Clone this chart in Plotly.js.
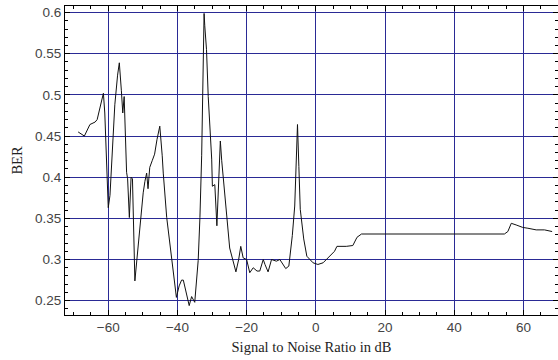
<!DOCTYPE html>
<html>
<head>
<meta charset="utf-8">
<script src="https://cdn.plot.ly/plotly-3.0.1.min.js"></script>
<style>
  html, body { margin: 0; padding: 0; background: #fff; }
  #chart { width: 558px; height: 360px; }
</style>
</head>
<body>
<div id="chart"></div>
<script>
// Signal-to-noise ratio sweep (dB)
const snrDb = [
  -68.7, -67.8, -66.9, -65.3, -63.8, -63.2, -61.4, -61.0, -60.7, -60.5,
  -60.2, -60.0, -59.5, -59.0, -58.1, -57.3, -56.8, -56.2, -55.8, -55.4,
  -54.7, -54.4, -53.9, -53.4, -53.0, -52.3, -51.8, -50.8, -49.9, -49.4,
  -48.9, -48.5, -48.0, -47.3, -46.6, -45.9, -45.1, -44.4, -44.1, -43.1,
  -41.7, -40.3, -39.5, -38.8, -38.3, -37.4, -36.6, -35.9, -35.0, -34.0,
  -33.5, -33.0, -32.8, -32.6, -32.3, -32.1, -31.6, -31.1, -30.6, -30.1,
  -29.9, -29.2, -28.6, -28.0, -27.6, -27.2, -26.3, -24.9, -23.1, -22.3,
  -21.7, -21.0, -20.0, -19.1, -18.1, -17.0, -16.2, -15.2, -14.7, -13.8,
  -12.8, -11.4, -10.4, -8.7, -7.8, -6.8, -6.1, -5.6, -5.3, -4.9,
  -4.5, -3.5, -2.6, -0.8, 0.6, 2.1, 3.0, 5.4, 6.1, 8.8,
  10.7, 11.9, 13.2, 54.5, 55.5, 56.5, 57.9, 59.8, 61.3, 63.7,
  66.1, 68.3
];

// Measured bit error rate at each SNR
const ber = [
  0.455, 0.453, 0.450, 0.464, 0.467, 0.470, 0.502, 0.478, 0.444, 0.404,
  0.380, 0.363, 0.378, 0.422, 0.488, 0.524, 0.539, 0.505, 0.478, 0.498,
  0.406, 0.398, 0.351, 0.400, 0.398, 0.274, 0.296, 0.349, 0.381, 0.395,
  0.405, 0.386, 0.412, 0.420, 0.428, 0.446, 0.462, 0.426, 0.405, 0.351,
  0.300, 0.254, 0.268, 0.275, 0.275, 0.259, 0.244, 0.255, 0.248, 0.299,
  0.351, 0.426, 0.480, 0.559, 0.599, 0.584, 0.555, 0.498, 0.462, 0.422,
  0.389, 0.391, 0.341, 0.405, 0.444, 0.420, 0.375, 0.314, 0.285, 0.300,
  0.316, 0.302, 0.300, 0.284, 0.290, 0.286, 0.286, 0.300, 0.294, 0.285,
  0.300, 0.298, 0.300, 0.289, 0.292, 0.329, 0.365, 0.446, 0.464, 0.413,
  0.361, 0.325, 0.304, 0.296, 0.294, 0.296, 0.300, 0.310, 0.316, 0.316,
  0.317, 0.327, 0.331, 0.331, 0.334, 0.344, 0.342, 0.339, 0.338, 0.336,
  0.336, 0.334
];

const xTitle = 'Signal to Noise Ratio in dB';
const yTitle = 'BER';

const gridColor = '#2a2a95';
const tickFont = { family: 'Liberation Sans, Arial, sans-serif', size: 13.5, color: '#444' };
const titleFont = { family: 'Liberation Serif, Times New Roman, serif', size: 14.5, color: '#222' };

const trace = {
  x: snrDb,
  y: ber,
  type: 'scatter',
  mode: 'lines',
  line: { color: '#111', width: 1 },
  hoverinfo: 'skip'
};

const axisCommon = {
  showline: true,
  linecolor: '#000',
  linewidth: 1,
  mirror: 'ticks',
  ticks: 'inside',
  ticklen: 5,
  tickcolor: '#000',
  tickwidth: 1,
  showgrid: true,
  gridcolor: gridColor,
  gridwidth: 1,
  zeroline: false,
  tickfont: tickFont,
  automargin: false
};

const layout = {
  width: 558,
  height: 360,
  margin: { l: 65, r: 0, t: 6, b: 45 },
  paper_bgcolor: '#fff',
  plot_bgcolor: '#fff',
  showlegend: false,
  xaxis: Object.assign({}, axisCommon, {
    range: [-72.5, 70],
    tick0: 0,
    dtick: 20,
    minor: { dtick: 5, ticks: 'inside', ticklen: 3, tickcolor: '#000', showgrid: false },
    title: { text: xTitle, font: titleFont, standoff: 7 }
  }),
  yaxis: Object.assign({}, axisCommon, {
    range: [0.2326, 0.608],
    tick0: 0,
    dtick: 0.05,
    minor: { dtick: 0.01, ticks: 'inside', ticklen: 3, tickcolor: '#000', showgrid: false },
    title: { text: yTitle, font: titleFont, standoff: 8 }
  })
};

Plotly.newPlot('chart', [trace], layout, { staticPlot: true, displayModeBar: false });
</script>
</body>
</html>
